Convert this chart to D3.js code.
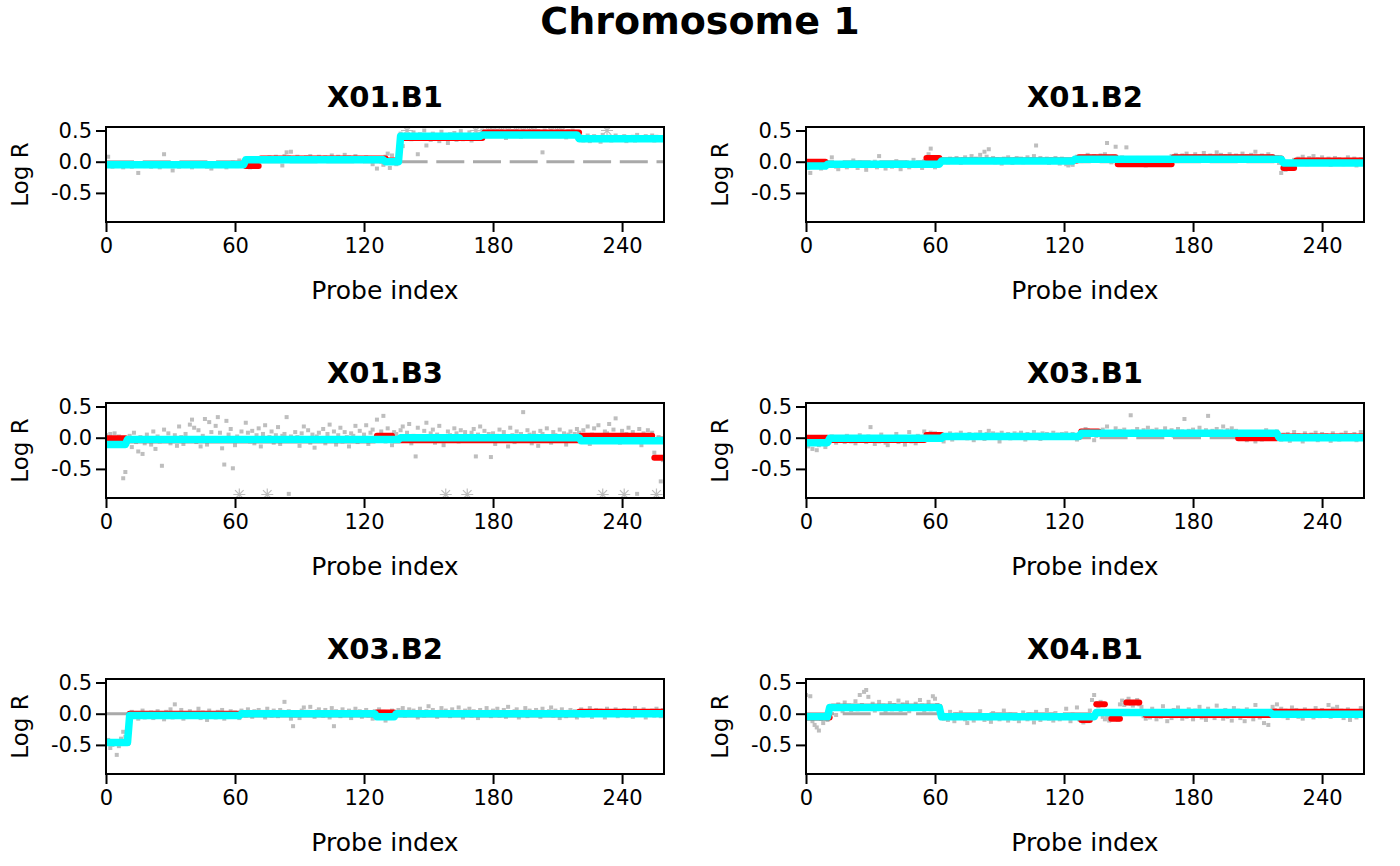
<!DOCTYPE html>
<html>
<head>
<meta charset="utf-8">
<script src="https://cdn.jsdelivr.net/npm/d3@7"></script>
<style>
  body { margin: 0; background: #fff; }
  text { font-family: "DejaVu Sans", sans-serif; }
</style>
</head>
<body>
<svg id="chart" width="1400" height="866"></svg>
<script>
const sampleNames = ["X01.B1", "X01.B2", "X01.B3", "X03.B1", "X03.B2", "X04.B1"];
const xTicks = [0, 60, 120, 180, 240];
const yTicks = [-0.5, 0, 0.5];
const yTickLabels = ["-0.5", "0.0", "0.5"];
const xLimits = [0, 259.5];
const yLimits = [-0.91, 0.5];

// log R per probe (probe index 0..259)
const logR_X01_B1 = [
  -0.03,0.08,-0.06,-0.08,-0.04,-0.07,-0.02,-0.05,-0.09,-0.03,-0.06,-0.04,-0.08,-0.05,-0.02,-0.18,-0.06,-0.04,-0.07,-0.03,
  -0.05,-0.08,-0.02,-0.06,-0.04,-0.09,-0.03,0.12,-0.05,-0.07,-0.04,-0.14,-0.06,-0.02,-0.08,-0.05,-0.03,-0.07,-0.04,-0.06,
  -0.09,-0.03,-0.05,-0.07,-0.02,-0.06,-0.04,-0.08,-0.05,-0.11,-0.03,-0.06,-0.04,-0.07,-0.02,-0.05,-0.09,-0.03,-0.06,-0.01,
  -0.04,-0.07,0.02,-0.05,-0.03,-0.08,-0.06,-0.09,-0.04,-0.07,0.01,0.03,0.05,0.02,0.06,0.04,0.07,0.03,0.05,0.08,
  0.04,0.06,-0.06,0.09,0.15,0.07,0.16,0.05,0.03,0.08,0.04,0.06,0.02,0.07,0.05,0.09,0.03,0.06,0.04,0.08,
  0.05,0.02,0.07,0.04,0.06,0.10,0.03,0.05,0.08,0.04,0.06,0.11,0.02,0.07,0.05,0.03,0.09,0.04,0.06,0.01,
  0.05,0.07,0.03,0.06,-0.04,0.02,-0.11,0.04,0.00,-0.05,0.08,0.13,-0.10,0.10,0.02,-0.04,0.05,0.45,0.25,0.39,
  0.62,0.42,0.36,0.47,0.40,0.12,0.44,0.38,0.50,0.26,0.41,0.35,0.45,0.39,0.43,0.33,0.48,0.37,0.42,0.30,
  0.44,0.38,0.46,0.35,0.41,0.49,0.36,0.43,0.39,0.47,0.34,0.42,0.64,0.45,0.40,0.50,0.44,0.48,0.52,0.41,
  0.61,0.46,0.50,0.43,0.53,0.47,0.38,0.51,0.45,0.49,0.42,0.52,0.46,0.40,0.63,0.48,0.44,0.51,0.47,0.53,
  0.43,0.49,0.45,0.15,0.50,0.42,0.47,0.52,0.44,0.48,0.60,0.41,0.51,0.46,0.39,0.49,0.44,0.50,0.45,0.42,
  0.36,0.40,0.34,0.38,0.42,0.33,0.37,0.41,0.35,0.39,0.32,0.43,0.36,0.62,0.40,0.34,0.38,0.42,0.35,0.39,
  0.37,0.41,0.33,0.38,0.36,0.40,0.34,0.43,0.37,0.39,0.35,0.41,0.36,0.38,0.42,0.34,0.40,0.37,0.39,0.36
];
const logR_X01_B2 = [
  -0.05,-0.10,-0.18,-0.03,-0.08,-0.02,-0.06,-0.11,-0.04,-0.07,-0.01,-0.05,0.07,-0.03,-0.08,-0.12,-0.02,-0.06,-0.04,-0.09,
  -0.03,-0.07,0.02,-0.05,-0.10,-0.01,-0.06,-0.04,-0.13,-0.02,-0.07,-0.05,0.00,-0.09,0.09,-0.03,-0.06,-0.11,-0.04,-0.02,
  -0.08,-0.05,0.01,-0.07,-0.12,-0.03,-0.06,-0.01,-0.09,-0.04,0.03,-0.07,-0.02,-0.05,-0.10,0.01,0.05,0.12,0.21,0.03,
  -0.09,0.06,0.02,0.04,0.01,0.03,-0.01,0.05,0.02,0.00,0.06,0.03,-0.02,0.04,0.07,0.01,0.03,0.09,0.02,0.05,
  0.00,0.11,0.04,0.16,0.08,0.20,0.03,0.06,-0.01,0.04,0.02,-0.03,0.05,0.01,0.07,0.03,-0.02,0.04,0.06,0.02,
  0.05,-0.01,0.03,0.07,0.01,0.04,0.09,0.26,0.02,0.06,0.00,0.03,0.05,-0.02,0.04,0.01,0.06,0.03,-0.03,0.05,
  0.02,-0.04,-0.06,-0.03,-0.05,0.03,0.08,0.05,0.01,0.07,0.04,0.11,0.02,0.06,0.09,0.03,0.05,0.10,0.04,0.12,
  0.30,0.06,-0.01,0.08,0.24,0.03,-0.04,0.07,0.02,0.23,-0.03,0.05,-0.05,0.01,0.06,-0.02,0.04,0.00,-0.06,0.03,
  -0.01,0.05,-0.03,0.02,0.06,-0.04,0.01,0.04,-0.02,0.03,0.09,0.05,0.11,0.07,0.02,0.10,0.06,0.13,0.04,0.08,
  0.05,0.12,0.03,0.09,0.06,0.14,0.02,0.07,0.10,0.04,0.08,0.15,0.05,0.11,0.03,0.09,0.06,0.12,0.04,0.07,
  0.10,0.05,0.08,0.13,0.03,0.09,0.06,0.11,0.04,0.16,0.07,0.05,0.10,0.02,0.08,0.12,0.06,0.09,0.04,0.07,
  -0.02,-0.18,-0.09,-0.13,-0.06,-0.11,-0.08,0.03,-0.01,0.05,0.00,0.08,0.02,-0.04,0.06,0.01,0.09,-0.02,0.04,0.00,
  0.07,-0.03,0.03,0.05,-0.05,0.02,0.06,-0.01,0.04,0.01,-0.04,0.03,0.07,-0.02,0.02,0.05,-0.06,0.01,0.04,-0.03
];
const logR_X01_B3 = [
  0.04,-0.08,0.06,-0.03,0.07,-0.12,0.02,-0.05,-0.65,-0.55,-0.02,0.03,-0.15,0.08,-0.07,-0.22,0.01,-0.26,-0.09,0.05,
  -0.04,-0.11,0.10,-0.18,0.02,-0.06,-0.45,0.13,-0.02,0.07,-0.09,-0.03,0.04,-0.13,0.18,0.01,-0.10,0.06,-0.05,0.21,
  0.29,0.16,-0.07,0.12,-0.14,0.03,0.30,-0.11,0.25,0.09,-0.04,0.19,0.33,0.08,-0.17,-0.43,0.27,0.05,0.14,-0.49,
  -0.12,0.02,-1.20,0.10,-0.02,0.24,0.08,-0.06,0.11,-0.09,0.04,0.15,-0.14,0.06,0.20,-1.10,0.01,0.10,-0.08,0.04,
  0.17,-0.10,0.03,0.06,0.33,-0.90,0.02,-0.05,0.09,0.01,-0.13,0.07,0.18,-0.03,0.12,-0.08,0.05,-0.16,0.02,0.08,
  -0.04,0.14,-0.09,0.06,0.21,-0.02,0.10,-0.11,0.04,0.16,-0.06,0.09,0.01,-0.14,0.07,0.03,0.19,-0.07,0.11,-0.03,
  0.05,0.20,-0.10,0.08,0.13,-0.05,0.29,0.02,0.10,0.35,-0.06,0.15,0.04,-0.12,0.09,0.06,-0.02,0.12,0.18,-0.04,
  0.08,0.22,-0.09,0.03,-0.30,0.16,0.01,-0.05,0.11,0.24,-0.01,0.07,0.13,-0.08,0.05,0.19,0.02,-0.12,-1.15,0.10,
  0.04,-0.03,0.15,0.07,-0.06,0.12,0.01,0.09,-1.05,-0.02,0.08,0.14,-0.30,0.05,0.18,-0.04,0.11,0.02,0.06,-0.31,
  0.07,-0.10,0.03,0.13,-0.05,0.09,0.01,-0.14,0.16,0.04,-0.07,0.10,0.02,0.06,0.41,-0.03,0.12,0.05,-0.09,0.08,
  0.03,-0.13,0.11,0.06,-0.02,0.15,0.01,-0.08,0.09,0.04,-0.05,0.13,0.02,0.07,-0.11,0.05,0.10,-0.03,0.06,0.14,
  0.08,-0.06,0.12,0.02,0.18,-0.10,0.05,0.15,0.01,0.20,-0.04,-1.10,0.10,0.07,0.22,-0.02,0.13,0.31,0.04,-0.08,
  0.11,-1.20,0.06,0.16,-0.05,0.09,0.02,-0.90,0.14,-0.12,0.07,0.03,0.12,-0.03,0.08,-0.24,-1.10,0.01,-0.70,-0.36
];
const logR_X03_B1 = [
  -0.10,-0.14,-0.06,-0.18,-0.08,-0.20,-0.12,-0.04,-0.09,-0.15,-0.03,-0.06,0.02,-0.04,-0.08,0.01,-0.05,-0.02,-0.07,0.03,
  -0.03,-0.06,0.00,-0.09,-0.02,0.04,-0.05,-0.01,-0.07,0.02,0.17,-0.04,-0.10,0.01,-0.06,0.05,-0.03,-0.08,-0.12,0.00,
  -0.05,-0.02,0.06,-0.07,-0.03,0.01,-0.11,-0.04,0.09,-0.06,-0.01,-0.09,0.03,-0.05,-0.02,0.10,0.06,0.02,0.08,0.04,
  0.07,0.03,0.05,-0.02,-0.06,0.04,0.01,0.07,-0.03,0.03,0.05,0.00,0.08,0.02,0.04,-0.01,0.06,0.03,-0.04,0.05,
  0.02,0.09,0.04,-0.02,0.06,0.11,0.03,0.07,0.01,0.05,-0.06,0.08,0.02,0.04,0.06,-0.01,0.03,0.07,0.02,0.05,
  0.08,0.03,-0.03,0.06,0.01,0.04,0.09,0.02,0.05,-0.02,0.07,0.03,0.06,0.00,0.04,0.08,0.02,0.05,0.01,0.06,
  0.03,0.07,0.04,0.01,0.06,0.02,-0.03,0.05,0.11,0.08,0.14,0.12,0.06,0.09,-0.04,0.03,0.10,0.07,0.13,0.05,
  0.18,0.04,0.09,0.06,0.15,0.02,0.11,0.07,0.13,0.08,0.05,0.36,0.10,0.06,0.14,0.09,0.03,0.12,0.07,0.16,
  0.05,0.11,0.08,0.13,0.04,0.10,0.07,0.15,0.06,0.09,0.12,0.03,0.08,0.14,0.06,0.10,0.30,0.05,0.11,0.07,
  0.13,0.08,0.04,0.16,0.09,0.06,0.12,0.35,0.07,0.11,0.05,0.14,0.08,0.10,0.18,0.06,0.12,0.09,0.15,0.07,
  0.11,0.03,-0.02,0.05,0.01,-0.04,0.06,0.00,0.03,-0.06,0.07,0.02,-0.03,0.04,0.12,0.01,-0.01,0.08,0.05,0.10,
  0.02,-0.03,0.05,0.00,0.06,-0.05,0.03,0.09,-0.01,0.04,0.01,-0.06,0.07,0.02,-0.02,0.05,0.00,0.08,-0.04,0.03,
  0.06,-0.01,0.04,0.02,-0.05,0.07,0.01,0.03,-0.03,0.05,0.00,0.08,-0.02,0.04,0.01,0.06,-0.04,0.03,0.09,0.02
];
const logR_X03_B2 = [
  -0.48,-0.42,-0.55,-0.50,-0.44,-0.66,-0.52,-0.40,-0.29,-0.37,-0.47,-0.02,0.03,-0.05,0.01,-0.08,-0.03,0.05,-0.06,-0.01,
  -0.04,0.02,-0.07,-0.02,0.04,-0.05,0.00,-0.09,0.03,-0.03,0.07,-0.06,0.15,-0.01,-0.04,0.06,-0.08,0.01,-0.02,0.04,
  -0.05,0.00,-0.03,0.08,-0.07,0.02,-0.01,-0.10,0.05,-0.04,0.01,-0.06,0.03,-0.02,0.06,-0.08,0.00,-0.03,0.04,-0.05,
  0.02,-0.01,-0.07,0.05,0.01,-0.03,0.07,0.02,-0.05,0.04,0.00,0.06,-0.02,0.03,-0.06,0.08,0.01,-0.03,0.05,0.02,
  -0.04,0.06,0.03,0.19,-0.01,0.04,-0.08,-0.20,-0.03,0.02,-0.07,0.05,0.10,-0.02,0.03,0.11,0.00,-0.05,0.04,0.07,
  0.01,-0.03,0.06,0.02,-0.06,0.09,-0.20,0.04,0.00,-0.04,0.07,0.02,-0.02,0.05,-0.07,0.03,0.08,-0.01,0.04,-0.05,
  0.02,0.06,-0.03,0.01,-0.08,0.04,-0.02,0.07,-0.05,0.03,-0.11,0.00,-0.07,0.05,-0.04,0.02,0.06,-0.01,0.09,-0.03,
  0.03,0.07,-0.02,0.05,0.01,-0.06,0.08,0.02,-0.03,0.04,0.12,-0.01,0.06,0.00,-0.05,0.03,0.09,-0.02,0.05,0.01,
  -0.04,0.07,0.02,-0.01,0.10,0.03,-0.06,0.05,0.00,0.08,-0.03,0.04,0.01,-0.07,0.06,0.02,-0.02,0.09,0.03,-0.04,
  0.05,0.00,0.08,-0.03,0.02,0.06,-0.05,0.11,0.01,-0.02,0.04,0.07,-0.06,0.03,0.00,0.09,-0.04,0.05,0.02,-0.01,
  0.06,0.03,-0.05,0.08,0.01,-0.02,0.04,0.10,-0.03,0.05,0.00,-0.07,0.07,0.02,-0.04,0.03,0.06,-0.01,0.04,-0.06,
  0.02,0.07,-0.03,0.04,0.00,0.09,-0.05,0.03,0.06,-0.02,0.05,0.01,-0.06,0.08,0.02,-0.01,0.04,0.07,-0.04,0.03,
  0.00,0.06,-0.03,0.05,0.02,-0.05,0.09,0.01,-0.02,0.04,0.07,-0.06,0.03,0.00,0.05,-0.03,0.08,0.02,-0.04,0.06
];
const logR_X04_B1 = [
  0.30,-0.05,0.28,-0.12,-0.18,-0.22,-0.27,-0.08,-0.15,-0.03,-0.10,0.05,0.12,0.08,-0.02,0.15,0.10,0.04,0.18,0.09,
  0.13,0.06,0.11,0.20,0.07,0.30,0.14,0.35,0.38,0.27,0.09,0.16,0.05,0.12,0.19,0.08,0.13,0.03,0.10,0.17,
  0.07,0.14,0.11,0.21,0.06,0.15,0.09,0.18,0.04,0.12,0.08,0.16,0.10,0.22,0.13,0.05,0.11,0.19,0.07,0.28,
  0.24,0.14,0.09,-0.05,-0.08,-0.02,-0.10,0.03,-0.06,-0.12,-0.01,-0.07,0.02,-0.04,-0.09,-0.15,-0.03,-0.06,-0.11,-0.02,
  -0.07,0.04,-0.05,-0.10,-0.03,-0.08,-0.13,0.01,-0.06,-0.02,-0.09,-0.04,0.05,-0.07,-0.11,-0.01,-0.05,-0.08,-0.03,-0.12,
  -0.06,0.02,-0.04,-0.09,-0.01,-0.07,-0.14,0.03,-0.05,-0.10,-0.02,-0.06,0.06,-0.08,-0.03,-0.11,0.01,-0.05,-0.09,-0.02,
  -0.07,0.08,-0.04,-0.12,-0.01,-0.06,0.10,-0.09,-0.03,-0.14,-0.08,-0.12,0.05,0.22,0.30,0.17,0.12,0.19,-0.05,-0.09,
  -0.06,-0.11,-0.04,-0.08,0.00,-0.10,0.15,0.21,0.14,0.20,0.24,0.16,0.13,0.19,0.22,0.15,0.11,-0.04,-0.08,0.02,
  -0.06,0.08,-0.02,-0.09,0.04,-0.05,0.12,-0.03,-0.12,0.01,-0.07,0.06,-0.04,0.10,-0.01,-0.08,0.03,-0.05,0.07,-0.02,
  -0.09,0.05,-0.03,0.11,-0.06,0.02,-0.10,0.08,-0.04,0.00,-0.07,0.13,-0.02,0.04,-0.08,0.06,-0.05,0.01,-0.11,0.09,
  -0.03,0.05,-0.07,0.02,-0.12,0.07,-0.04,0.00,-0.09,0.14,-0.01,-0.06,0.04,-0.15,-0.03,-0.18,0.03,0.11,0.06,0.15,
  0.01,0.08,-0.04,0.05,-0.07,0.02,0.10,-0.02,0.06,-0.05,0.03,-0.08,0.07,0.00,-0.03,0.04,-0.06,0.09,0.01,-0.04,
  0.06,-0.02,0.03,0.14,-0.05,0.08,0.01,0.11,-0.03,0.05,-0.07,0.02,0.07,-0.10,0.04,0.00,-0.06,0.03,0.09,-0.02
];

// red segments: [first probe, last probe, mean log R]
const segRed_X01_B1 = [[0,64,-0.04],[65,71,-0.07],[72,130,0.05],[131,136,0.02],[137,175,0.38],[176,220,0.47],[221,259,0.38]];
const segRed_X01_B2 = [[0,9,0.0],[10,55,-0.05],[56,62,0.06],[63,126,0.02],[127,144,0.07],[145,170,-0.04],[171,217,0.07],[218,221,0.05],[222,227,-0.1],[228,259,0.02]];
const segRed_X01_B3 = [[0,9,-0.01],[10,125,-0.04],[126,133,0.03],[134,220,-0.04],[221,254,0.03],[255,259,-0.32]];
const segRed_X03_B1 = [[0,10,0.0],[11,55,-0.035],[56,63,0.045],[64,127,0.01],[128,136,0.1],[137,200,0.07],[201,219,-0.01],[220,259,0.02]];
const segRed_X03_B2 = [[0,10,-0.47],[11,62,0.0],[63,125,-0.01],[126,134,0.02],[135,219,-0.01],[220,259,0.03]];
const segRed_X04_B1 = [[0,11,-0.06],[12,62,0.11],[63,126,-0.05],[128,132,-0.1],[135,139,0.15],[142,146,-0.08],[149,155,0.18],[158,216,-0.02],[217,259,0.03]];

// cyan smoothed level: [first probe, last probe, level]
const segCyan_X01_B1 = [[0,64,-0.05],[65,129,0.03],[130,136,0.0],[137,174,0.41],[175,219,0.43],[220,259,0.37]];
const segCyan_X01_B2 = [[0,9,-0.07],[10,62,-0.04],[63,124,0.01],[125,221,0.04],[222,259,-0.02]];
const segCyan_X01_B3 = [[0,9,-0.11],[10,136,-0.03],[137,220,0.0],[221,259,-0.05]];
const segCyan_X03_B1 = [[0,10,-0.08],[11,63,-0.01],[64,127,0.02],[128,219,0.07],[220,259,0.0]];
const segCyan_X03_B2 = [[0,10,-0.46],[11,62,-0.03],[63,125,0.0],[126,134,-0.05],[135,259,0.0]];
const segCyan_X04_B1 = [[0,10,-0.05],[11,62,0.1],[63,134,-0.05],[135,216,0.02],[217,259,-0.01]];

const panels = [
  { name: sampleNames[0], logR: logR_X01_B1, red: segRed_X01_B1, cyan: segCyan_X01_B1 },
  { name: sampleNames[1], logR: logR_X01_B2, red: segRed_X01_B2, cyan: segCyan_X01_B2 },
  { name: sampleNames[2], logR: logR_X01_B3, red: segRed_X01_B3, cyan: segCyan_X01_B3 },
  { name: sampleNames[3], logR: logR_X03_B1, red: segRed_X03_B1, cyan: segCyan_X03_B1 },
  { name: sampleNames[4], logR: logR_X03_B2, red: segRed_X03_B2, cyan: segCyan_X03_B2 },
  { name: sampleNames[5], logR: logR_X04_B1, red: segRed_X04_B1, cyan: segCyan_X04_B1 }
];

var svg = d3.select("#chart");

svg.append("text")
  .attr("x", 700).attr("y", 34)
  .attr("text-anchor", "middle")
  .attr("font-weight", "bold")
  .attr("font-size", 38)
  .text("Chromosome 1");

var plot_w = 558, plot_h = 95;
var yr = yLimits[1] - yLimits[0];

var x = d3.scaleLinear().domain(xLimits).range([0, plot_w]);
var y = d3.scaleLinear()
  .domain([yLimits[0] - 0.04 * yr, yLimits[1] + 0.04 * yr])
  .range([plot_h, 0]);

var starPath = "M-6,0H6M0,-6V6M-4.3,-4.3L4.3,4.3M-4.3,4.3L4.3,-4.3";

panels.forEach(function (p, k) {
  var col = k % 2, row = Math.floor(k / 2);
  var g = svg.append("g")
    .attr("transform", "translate(" + (106 + 700 * col) + "," + (127 + 276 * row) + ")");

  g.append("clipPath").attr("id", "clip" + k)
    .append("rect").attr("width", plot_w).attr("height", plot_h);

  var pts = p.logR.map(function (v, i) { return { i: i, v: v }; });
  var inside = pts.filter(function (d) { return d.v >= yLimits[0] && d.v <= yLimits[1]; });
  var outside = pts.filter(function (d) { return d.v < yLimits[0] || d.v > yLimits[1]; });

  var body = g.append("g").attr("clip-path", "url(#clip" + k + ")");

  body.selectAll("rect.pt")
    .data(inside)
    .enter().append("rect")
    .attr("class", "pt")
    .attr("x", function (d) { return x(d.i) - 2; })
    .attr("y", function (d) { return y(d.v) - 2; })
    .attr("width", 4).attr("height", 4)
    .style("fill", "#bebebe");

  // values past the limits drawn as stars on the limit
  body.selectAll("path.star")
    .data(outside)
    .enter().append("path")
    .attr("class", "star")
    .attr("transform", function (d) {
      var lim = d.v > yLimits[1] ? yLimits[1] : yLimits[0];
      return "translate(" + x(d.i) + "," + y(lim) + ")";
    })
    .attr("d", starPath)
    .style("stroke", "#bebebe").style("stroke-width", 1.2).style("fill", "none");

  // zero line
  body.append("line")
    .attr("x1", 0).attr("x2", plot_w)
    .attr("y1", y(0)).attr("y2", y(0))
    .style("stroke", "#a9a9a9").style("stroke-width", 3)
    .style("stroke-dasharray", "28,8.7");

  body.selectAll("line.red")
    .data(p.red)
    .enter().append("line")
    .attr("class", "red")
    .attr("x1", function (d) { return x(d[0]); })
    .attr("x2", function (d) { return x(d[1]); })
    .attr("y1", function (d) { return y(d[2]); })
    .attr("y2", function (d) { return y(d[2]); })
    .style("stroke", "#ff0000").style("stroke-width", 6)
    .style("stroke-linecap", "round");

  var cyanPts = [];
  p.cyan.forEach(function (s) { cyanPts.push([s[0], s[2]], [s[1], s[2]]); });
  body.append("path")
    .datum(cyanPts)
    .attr("d", d3.line().x(function (d) { return x(d[0]); }).y(function (d) { return y(d[1]); }))
    .style("fill", "none").style("stroke", "#00ffff").style("stroke-width", 7.5)
    .style("stroke-linecap", "round").style("stroke-linejoin", "round");

  // box
  g.append("rect")
    .attr("width", plot_w).attr("height", plot_h)
    .style("fill", "none").style("stroke", "#000").style("stroke-width", 2);

  var xAxis = d3.axisBottom(x).tickValues(xTicks).tickSize(10).tickSizeOuter(0).tickPadding(6);
  var gx = g.append("g").attr("transform", "translate(0," + plot_h + ")").call(xAxis);
  gx.select(".domain").remove();
  gx.selectAll(".tick line").style("stroke-width", 2);
  gx.selectAll(".tick text").attr("font-size", 21).attr("font-family", "DejaVu Sans").style("fill", "#000");

  var yAxis = d3.axisLeft(y).tickValues(yTicks).tickSize(10).tickSizeOuter(0).tickPadding(4)
    .tickFormat(function (d, i) { return yTickLabels[i]; });
  var gy = g.append("g").call(yAxis);
  gy.select(".domain").remove();
  gy.selectAll(".tick line").style("stroke-width", 2);
  gy.selectAll(".tick text").attr("font-size", 21).attr("font-family", "DejaVu Sans").style("fill", "#000");

  g.append("text")
    .attr("x", plot_w / 2).attr("y", -20)
    .attr("text-anchor", "middle")
    .attr("font-weight", "bold").attr("font-size", 29)
    .text(p.name);

  g.append("text")
    .attr("x", plot_w / 2).attr("y", plot_h + 77)
    .attr("text-anchor", "middle")
    .attr("font-size", 25)
    .text("Probe index");

  g.append("text")
    .attr("transform", "translate(-78," + (plot_h / 2) + ") rotate(-90)")
    .attr("text-anchor", "middle")
    .attr("font-size", 23)
    .text("Log R");
});
</script>
</body>
</html>
